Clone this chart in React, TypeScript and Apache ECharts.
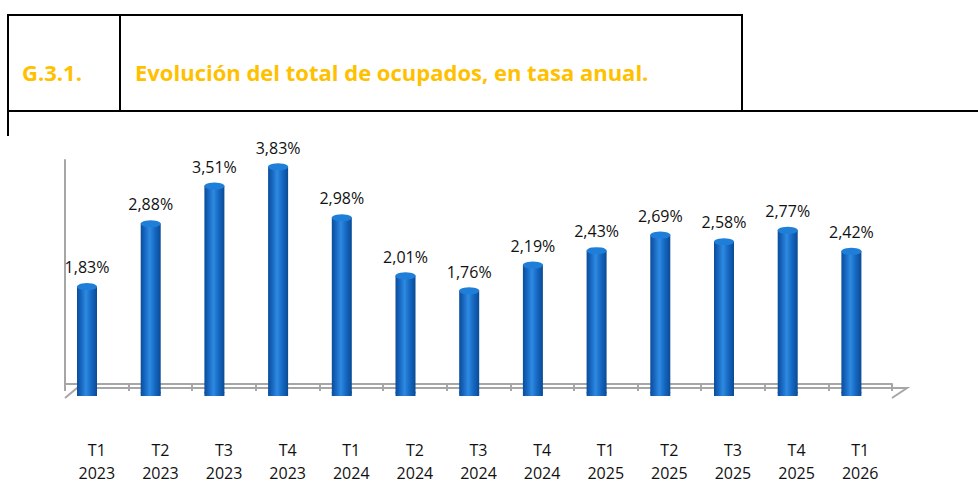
import React, { useEffect, useRef } from "react";
import * as echarts from "echarts";

const categories = [
  "T1\n2023", "T2\n2023", "T3\n2023", "T4\n2023",
  "T1\n2024", "T2\n2024", "T3\n2024", "T4\n2024",
  "T1\n2025", "T2\n2025", "T3\n2025", "T4\n2025",
  "T1\n2026",
];
const values = [1.83, 2.88, 3.51, 3.83, 2.98, 2.01, 1.76, 2.19, 2.43, 2.69, 2.58, 2.77, 2.42];
const chartCode = "G.3.1.";
const chartTitle = "Evolución del total de ocupados, en tasa anual.";

const fmt = (v: number) => v.toFixed(2).replace(".", ",") + "%";

export default function App() {
  const ref = useRef<HTMLDivElement>(null);
  useEffect(() => {
    if (!ref.current) return;
    const chart = echarts.init(ref.current, null, { renderer: "svg" });
    const gray = "#a6a6a6";
    const barGrad = new echarts.graphic.LinearGradient(0, 0, 1, 0, [
      { offset: 0, color: "#0a4c9a" },
      { offset: 0.22, color: "#1868c2" },
      { offset: 0.45, color: "#2e8ae0" },
      { offset: 0.7, color: "#1669c4" },
      { offset: 1, color: "#0a4a94" },
    ]);
    chart.setOption({
      animation: false,
      backgroundColor: "#ffffff",
      grid: [
        { left: 55.15, right: 94.75, top: 156.4, bottom: 88 },
        { left: 65, right: 86, top: 160, bottom: 86 },
      ],
      xAxis: [
        {
          type: "category",
          gridIndex: 0,
          data: categories,
          show: false,
        },
        {
          type: "category",
          gridIndex: 1,
          data: categories,
          boundaryGap: true,
          axisLine: { show: true, lineStyle: { color: gray, width: 2 } },
          axisTick: { show: true, length: 7, lineStyle: { color: gray, width: 2 } },
          axisLabel: {
            margin: 54,
            fontFamily: "Open Sans",
            fontSize: 16,
            lineHeight: 23,
            color: "#111111",
          },
        },
      ],
      yAxis: [
        { type: "value", gridIndex: 0, min: 0, max: 4, show: false },
        {
          type: "value",
          gridIndex: 1,
          min: 0,
          max: 1,
          axisLine: { show: true, lineStyle: { color: gray, width: 2 } },
          axisTick: { show: false },
          axisLabel: { show: false },
          splitLine: { show: false },
        },
      ],
      graphic: [
        {
          type: "polyline",
          shape: { points: [[65, 398], [77, 388], [907, 388], [892, 398]] },
          style: { stroke: gray, lineWidth: 2, fill: "none" },
          z: 1,
        },
        { type: "line", shape: { x1: 7, y1: 15, x2: 743, y2: 15 }, style: { stroke: "#000", lineWidth: 2 } },
        { type: "line", shape: { x1: 8, y1: 14, x2: 8, y2: 136 }, style: { stroke: "#000", lineWidth: 2 } },
        { type: "line", shape: { x1: 120, y1: 14, x2: 120, y2: 112 }, style: { stroke: "#000", lineWidth: 2 } },
        { type: "line", shape: { x1: 742, y1: 14, x2: 742, y2: 112 }, style: { stroke: "#000", lineWidth: 2 } },
        { type: "line", shape: { x1: 7, y1: 111, x2: 978, y2: 111 }, style: { stroke: "#000", lineWidth: 2 } },
        {
          type: "text",
          x: 22,
          y: 72,
          style: {
            text: chartCode,
            fill: "#FFC000",
            font: "bold 22px 'Open Sans'",
            verticalAlign: "middle",
          },
        },
        {
          type: "text",
          x: 135,
          y: 72,
          style: {
            text: chartTitle,
            fill: "#FFC000",
            font: "bold 22px 'Open Sans'",
            verticalAlign: "middle",
          },
        },
      ],
      series: [
        {
          type: "bar",
          xAxisIndex: 0,
          yAxisIndex: 0,
          data: values,
          barWidth: 20,
          itemStyle: { color: barGrad },
          z: 2,
          label: {
            show: true,
            position: "top",
            distance: 11,
            fontFamily: "Open Sans",
            fontSize: 16,
            color: "#111111",
            formatter: (p: any) => fmt(p.value),
          },
        },
        {
          type: "pictorialBar",
          xAxisIndex: 0,
          yAxisIndex: 0,
          data: values,
          symbol: "circle",
          symbolSize: [20, 7],
          symbolPosition: "end",
          symbolOffset: [0, "-50%"],
          itemStyle: { color: "#1f7ed8", borderColor: "#63b2f2", borderWidth: 1 },
          z: 4,
          silent: true,
        },
        {
          type: "pictorialBar",
          xAxisIndex: 0,
          yAxisIndex: 0,
          data: values,
          symbol: "circle",
          symbolSize: [20, 7],
          symbolPosition: "start",
          itemStyle: { color: barGrad },
          z: 3,
          silent: true,
        },
      ],
    });
    return () => chart.dispose();
  }, []);
  return (
    <div
      ref={ref}
      style={{ position: "absolute", left: 0, top: 0, width: 978, height: 484 }}
    />
  );
}
